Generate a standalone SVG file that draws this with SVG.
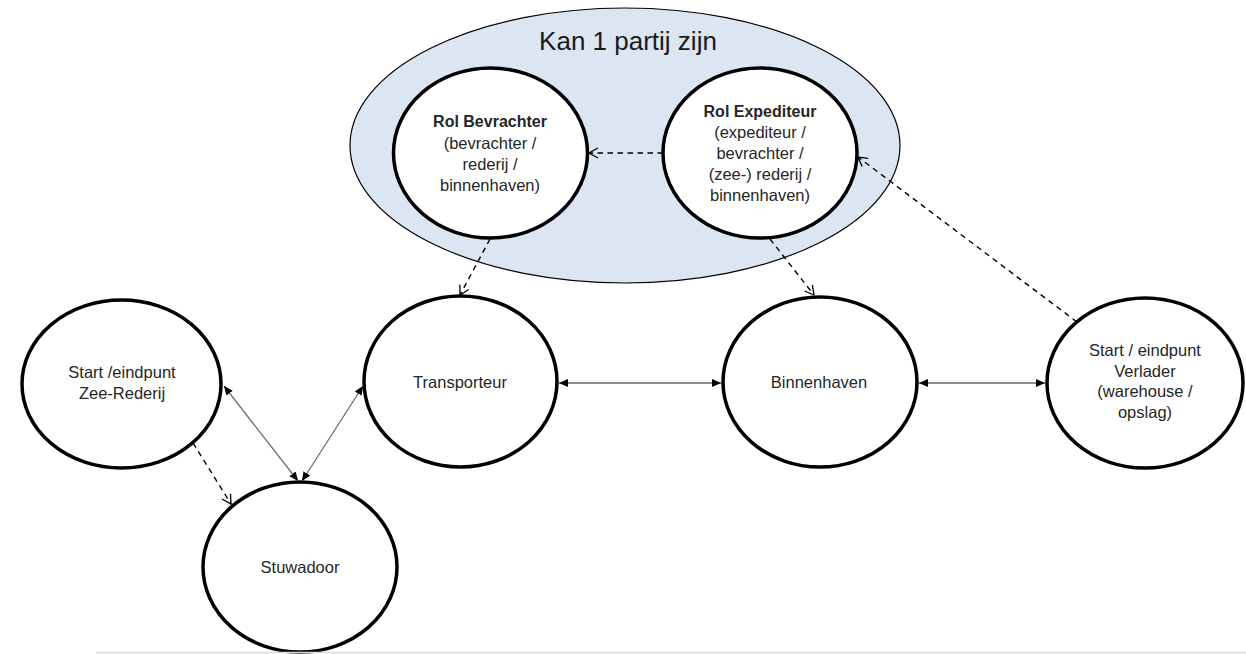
<svg xmlns="http://www.w3.org/2000/svg" width="1246" height="654" viewBox="0 0 1246 654">
<defs>
<style>
.node{fill:#ffffff;stroke:#000000;stroke-width:3.5}
.group{fill:#dce6f2;stroke:#000000;stroke-width:1.2}
.t{font-family:"Liberation Sans",Arial,sans-serif;font-size:16.5px;fill:#262626;text-anchor:middle}
.b{font-weight:bold;font-size:16px}
.title{font-family:"Liberation Sans",Arial,sans-serif;font-size:26px;fill:#1a1a1a;text-anchor:middle}
.solid{fill:none;stroke:#6e6e6e;stroke-width:1.3;marker-start:url(#fill);marker-end:url(#fill)}
.hsolid{stroke:#8c8c8c;stroke-width:2}
.dash{fill:none;stroke:#000000;stroke-width:1.4;stroke-dasharray:5.5 4.5;marker-end:url(#open)}
</style>
<marker id="fill" viewBox="0 0 9 8" refX="9" refY="4" markerWidth="9" markerHeight="8" markerUnits="userSpaceOnUse" orient="auto-start-reverse">
<path d="M0,0 L9,4 L0,8 z" fill="#000000"/>
</marker>
<marker id="open" viewBox="0 0 12 12" refX="10" refY="6" markerWidth="12" markerHeight="12" markerUnits="userSpaceOnUse" orient="auto" overflow="visible">
<path d="M1,1 L10,6 L1,11" fill="none" stroke="#000000" stroke-width="1.3"/>
</marker>
</defs>
<rect width="1246" height="654" fill="#ffffff"/>

<g id="group-kan1partij">
<ellipse class="group" cx="625" cy="145.5" rx="275" ry="137.5"/>
<text class="title" x="628" y="50">Kan 1 partij zijn</text>
</g>

<g id="node-rol-bevrachter">
<ellipse class="node" cx="490.5" cy="153" rx="97" ry="85"/>
<text class="t b" x="490" y="127">Rol Bevrachter</text>
<text class="t" x="490" y="149">(bevrachter /</text>
<text class="t" x="490" y="170">rederij /</text>
<text class="t" x="490" y="191">binnenhaven)</text>
</g>

<g id="node-rol-expediteur">
<ellipse class="node" cx="760" cy="153" rx="97" ry="85"/>
<text class="t b" x="760" y="117">Rol Expediteur</text>
<text class="t" x="760" y="138">(expediteur /</text>
<text class="t" x="760" y="159">bevrachter /</text>
<text class="t" x="760" y="180">(zee-) rederij /</text>
<text class="t" x="760" y="201">binnenhaven)</text>
</g>

<g id="node-zee-rederij">
<ellipse class="node" cx="121.5" cy="384" rx="99.5" ry="84"/>
<text class="t" x="122" y="378">Start /eindpunt</text>
<text class="t" x="122" y="399">Zee-Rederij</text>
</g>

<g id="node-transporteur">
<ellipse class="node" cx="460.5" cy="381.5" rx="96.5" ry="85.5"/>
<text class="t" x="460" y="388">Transporteur</text>
</g>

<g id="node-binnenhaven">
<ellipse class="node" cx="820" cy="382" rx="97" ry="85"/>
<text class="t" x="819" y="388">Binnenhaven</text>
</g>

<g id="node-verlader">
<ellipse class="node" cx="1145" cy="383" rx="98" ry="85"/>
<text class="t" x="1145" y="356">Start / eindpunt</text>
<text class="t" x="1145" y="377">Verlader</text>
<text class="t" x="1145" y="397">(warehouse /</text>
<text class="t" x="1145" y="418">opslag)</text>
</g>

<g id="node-stuwadoor">
<ellipse class="node" cx="300" cy="567" rx="97" ry="85"/>
<text class="t" x="300" y="573">Stuwadoor</text>
</g>

<g id="connectors">
<line class="dash" x1="663" y1="153" x2="589" y2="153"/>
<line class="dash" x1="1077" y1="322" x2="858" y2="157"/>
<line class="dash" x1="490" y1="239" x2="460" y2="295"/>
<line class="dash" x1="770" y1="239" x2="814" y2="295"/>
<line class="dash" x1="193" y1="443" x2="231" y2="504"/>
<line class="solid hsolid" x1="559" y1="383" x2="721" y2="383"/>
<line class="solid hsolid" x1="919" y1="383" x2="1045" y2="383"/>
<line class="solid" x1="224" y1="386" x2="298" y2="481"/>
<line class="solid" x1="363" y1="386" x2="302" y2="481"/>
</g>

<line x1="96" y1="652.5" x2="1246" y2="652.5" stroke="#d9d9d9" stroke-width="1.5"/>
</svg>
